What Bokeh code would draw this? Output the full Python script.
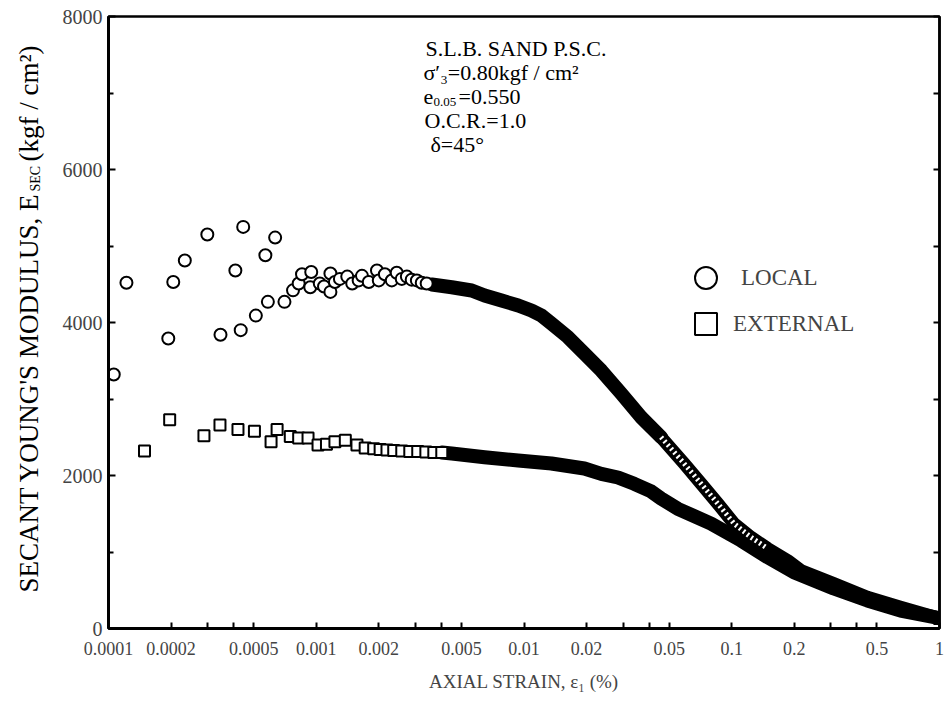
import math
from bokeh.plotting import figure
from bokeh.layouts import row
from bokeh.models import (Range1d, FixedTicker, LinearAxis, Label, Legend, LegendItem,
                          CustomJSTickFormatter)
from bokeh.embed import file_html
from bokeh.resources import INLINE

# ---------------- data ----------------
# LOCAL: individually visible circles at small strains
local_sparse_strain = [0.000106, 0.000122, 0.000194, 0.000205, 0.000233, 0.000299, 0.000346, 0.000408,
                       0.000433, 0.000445, 0.000512, 0.000569, 0.000585, 0.000634, 0.000703, 0.000773,
                       0.000823, 0.000854, 0.000936, 0.000946, 0.00104, 0.00109, 0.00117, 0.00117,
                       0.00123, 0.00130, 0.00141, 0.00149, 0.00160, 0.00166, 0.00179, 0.00196,
                       0.00200, 0.00214, 0.00231, 0.00244, 0.00258, 0.00273, 0.00288, 0.00305,
                       0.00322, 0.00340]
local_sparse_E = [3320, 4520, 3790, 4530, 4810, 5150, 3840, 4680,
                  3900, 5250, 4090, 4880, 4270, 5110, 4270, 4420,
                  4510, 4630, 4460, 4660, 4510, 4470, 4640, 4400,
                  4530, 4570, 4600, 4510, 4550, 4610, 4530, 4680,
                  4550, 4630, 4550, 4650, 4570, 4600, 4560, 4550,
                  4520, 4510]
# LOCAL: densely packed part (markers overlap into a solid band)
local_dense_strain = [0.0036, 0.00449, 0.0056, 0.00646, 0.0078, 0.00938, 0.01086, 0.01213,
                      0.01355, 0.01629, 0.01952, 0.02355, 0.02937, 0.03663, 0.04567]
local_dense_E = [4496, 4461, 4418, 4353, 4287, 4222, 4157, 4091,
                 3987, 3808, 3594, 3372, 3072, 2762, 2501]
local_tail_strain = [0.04567, 0.05897, 0.0711, 0.0856, 0.1025, 0.1237, 0.1488, 0.1856,
                     0.215, 0.3097, 0.4496, 0.6497, 0.9572]
local_tail_E = [2501, 2157, 1895, 1634, 1372, 1193, 1046, 889,
                758, 588, 409, 278, 148]

# EXTERNAL: individually visible squares
ext_sparse_strain = [0.000149, 0.000197, 0.000288, 0.000344, 0.00042, 0.000504, 0.000606, 0.000648,
                     0.00075, 0.000823, 0.000913, 0.00102, 0.00112, 0.00123, 0.00138, 0.00157,
                     0.00172, 0.00189, 0.00203, 0.00219, 0.00236, 0.00258, 0.00282, 0.00308,
                     0.00337, 0.00368, 0.00402]
ext_sparse_E = [2320, 2730, 2520, 2660, 2600, 2580, 2440, 2600,
                2510, 2490, 2490, 2400, 2410, 2440, 2460, 2400,
                2360, 2350, 2340, 2333, 2327, 2320, 2314, 2314,
                2307, 2300, 2300]
# EXTERNAL: dense band
ext_dense_strain = [0.00402, 0.00449, 0.00646, 0.00938, 0.01355, 0.01952, 0.02355, 0.02834,
                    0.03393, 0.04096, 0.04567, 0.055, 0.0795, 0.1108, 0.1488, 0.1991,
                    0.3097, 0.4496, 0.6497, 0.9572]
ext_dense_E = [2300, 2287, 2239, 2196, 2157, 2091, 2022, 1974,
               1891, 1791, 1699, 1565, 1372, 1150, 932, 736,
               523, 366, 235, 144]
ext_end_strain = [1.0]
ext_end_E = [130]

# axes
x_tick_values = [0.0001, 0.0002, 0.0005, 0.001, 0.002, 0.005, 0.01, 0.02, 0.05, 0.1, 0.2, 0.5, 1]
x_tick_labels = ["0.0001", "0.0002", "0.0005", "0.001", "0.002", "0.005", "0.01", "0.02",
                 "0.05", "0.1", "0.2", "0.5", "1"]
x_minor_ticks = [0.0003, 0.0004, 0.003, 0.004, 0.03, 0.04, 0.3, 0.4]
y_ticks = [0, 2000, 4000, 6000, 8000]
y_minor = [1000, 3000, 5000, 7000]

FONT = "Liberation Serif"
LEFT_W = 50
FRAME_BOTTOM = 628   # frames of the row are aligned: bottom edge at this canvas y

# ---------------- y-axis title strip ----------------
yt = figure(width=LEFT_W, height=710, x_range=Range1d(0, LEFT_W), y_range=Range1d(0, 710),
            output_backend="svg", toolbar_location=None, x_axis_location=None,
            y_axis_location=None, min_border=0)
yt.outline_line_color = None
yt.xgrid.visible = False
yt.ygrid.visible = False
rot = math.pi / 2


def ylab(text, cx, cy, size):
    yt.add_layout(Label(x=cx, y=FRAME_BOTTOM - cy, x_units="screen", y_units="screen", angle=rot,
                        text=text, text_font=FONT, text_font_size=size,
                        text_align="left", text_baseline="middle", text_color="black"))


ylab("SECANT YOUNG'S MODULUS, E", 28, 592, "27px")
ylab("SEC", 35, 191, "14px")
ylab("(kgf / cm\u00b2)", 28, 161, "27px")

# ---------------- main figure ----------------
p = figure(width=946 - LEFT_W, height=710, x_axis_type="log",
           x_range=Range1d(0.0001, 1), y_range=Range1d(0, 8000),
           output_backend="svg", toolbar_location=None,
           min_border_left=108 - LEFT_W, min_border_right=7, min_border_top=16, min_border_bottom=82)
p.xgrid.visible = False
p.ygrid.visible = False
p.outline_line_color = "black"
p.outline_line_width = 2.5
p.outline_line_alpha = 1.0
p.background_fill_color = "white"
p.border_fill_color = "white"

xa = p.xaxis[0]
xa.ticker = FixedTicker(ticks=x_tick_values, minor_ticks=x_minor_ticks)
xa.formatter = CustomJSTickFormatter(args=dict(vals=x_tick_values, labs=x_tick_labels),
                                     code="""
let best = -1, bd = 1e9;
for (let i = 0; i < vals.length; i++) {
  const d = Math.abs(Math.log10(vals[i]) - Math.log10(tick));
  if (d < bd) { bd = d; best = i; }
}
return (best >= 0 && bd < 1e-6) ? labs[best] : '';
""")
xa.major_tick_in = 6
xa.major_tick_out = 0
xa.minor_tick_in = 6
xa.minor_tick_out = 0
xa.axis_line_width = 3
xa.major_tick_line_width = 2
xa.minor_tick_line_width = 2
xa.major_label_text_font = FONT
xa.major_label_text_font_size = "18px"
xa.major_label_standoff = 13
xa.axis_label = "AXIAL STRAIN, \u03b5\u2081 (%)"
xa.axis_label_text_font = FONT
xa.axis_label_text_font_size = "19px"
xa.axis_label_text_font_style = "normal"
xa.axis_label_standoff = 13

ya = p.yaxis[0]
ya.ticker = FixedTicker(ticks=y_ticks, minor_ticks=y_minor)
ya.major_tick_in = 7
ya.major_tick_out = 0
ya.minor_tick_in = 5
ya.minor_tick_out = 0
ya.axis_line_width = 3
ya.major_tick_line_width = 2
ya.minor_tick_line_width = 2
ya.major_label_text_font = FONT
ya.major_label_text_font_size = "20px"
ya.major_label_standoff = 6

ra = LinearAxis(ticker=FixedTicker(ticks=y_ticks + y_minor),
                formatter=CustomJSTickFormatter(code="return '';"))
ra.major_tick_in = 6
ra.major_tick_out = 0
ra.minor_tick_in = 0
ra.minor_tick_out = 0
ra.axis_line_width = 2.5
ra.major_tick_line_width = 2
ra.major_label_standoff = 0
ra.major_label_text_font_size = "1px"
p.add_layout(ra, "right")

# ---------------- data renderers ----------------
p.line(ext_dense_strain, ext_dense_E, line_color="black", line_width=14,
       line_join="round", line_cap="round")
r_ext = p.scatter(ext_sparse_strain, ext_sparse_E, marker="square", size=11,
                  fill_color="white", line_color="black", line_width=2)
p.scatter(ext_end_strain, ext_end_E, marker="square", size=11,
          fill_color="white", line_color="black", line_width=2)

p.line(local_dense_strain, local_dense_E, line_color="black", line_width=14,
       line_join="round", line_cap="round")
p.line(local_tail_strain, local_tail_E, line_color="black", line_width=13,
       line_join="round", line_cap="round")
p.line(local_tail_strain[:7], local_tail_E[:7], line_color="white", line_width=5,
       line_dash="2 3")
r_loc = p.scatter(local_sparse_strain, local_sparse_E, marker="circle", size=12,
                  fill_color="white", line_color="black", line_width=2)

# legend: marker size in legend = 0.4 * glyph box
for rend, lab_text, loc, so in [(r_loc, "LOCAL", (570, 323), 8), (r_ext, "EXTERNAL", (570, 277), 0)]:
    lg = Legend(items=[LegendItem(label=lab_text, renderers=[rend])], location=loc,
                glyph_width=55, glyph_height=55, padding=0, margin=0, spacing=0,
                label_standoff=so, label_text_font=FONT, label_text_font_size="23px",
                border_line_alpha=0, background_fill_alpha=0)
    p.add_layout(lg, "center")

# ---------------- text annotations ----------------
def lab(text, cx, cy, size):
    p.add_layout(Label(x=cx - 108, y=FRAME_BOTTOM - cy, x_units="screen", y_units="screen",
                       text=text, text_font=FONT, text_font_size=size,
                       text_align="left", text_baseline="middle", text_color="black"))

lab("S.L.B. SAND P.S.C.", 425, 48, "22px")
lab("\u03c3\u2032\u2083=0.80kgf / cm\u00b2", 423, 72, "22px")
lab("e", 423, 96, "22px")
lab("0.05", 433, 101, "13px")
lab("=0.550", 458, 96, "22px")
lab("O.C.R.=1.0", 424, 120, "22px")
lab("\u03b4=45\u00b0", 430, 144, "22px")

open("out.html", "w").write(file_html(row(yt, p), INLINE))
